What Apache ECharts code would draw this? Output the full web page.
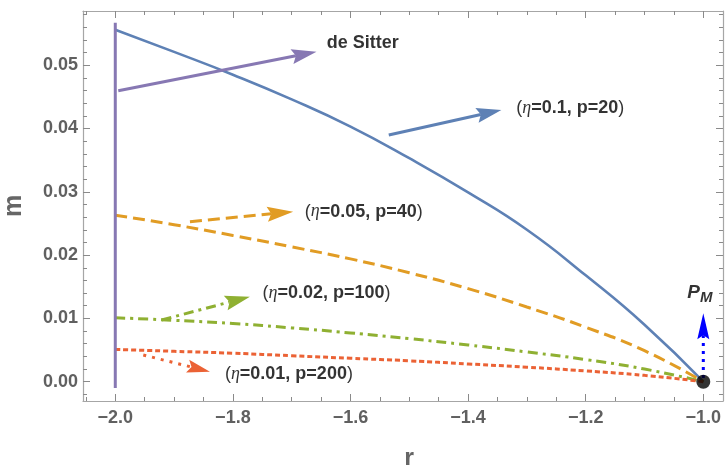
<!DOCTYPE html>
<html>
<head>
<meta charset="utf-8">
<script src="https://cdn.jsdelivr.net/npm/echarts@6/dist/echarts.min.js"></script>
<style>
html,body{margin:0;padding:0;background:#fff;}
#c{width:727px;height:465px;}
</style>
</head>
<body>
<div id="c"></div>
<script>
// ---- data ----
const rVals   = [-2.0, -1.9, -1.8, -1.7, -1.6, -1.5, -1.4, -1.3, -1.2, -1.1, -1.0];
const mEta01  = [0.0556, 0.0521, 0.0485, 0.0446, 0.0403, 0.0353, 0.0299, 0.0240, 0.0168, 0.0090, 0.0];
const mEta005 = [0.0263, 0.0248, 0.0231, 0.0213, 0.0194, 0.0172, 0.0147, 0.0118, 0.0086, 0.0049, 0.0];
const mEta002 = [0.0101, 0.0097, 0.0092, 0.0085, 0.0077, 0.0068, 0.0058, 0.0047, 0.0035, 0.0020, 0.0];
const mEta001 = [0.0051, 0.0048, 0.0045, 0.0041, 0.0037, 0.0033, 0.0028, 0.0023, 0.0017, 0.0010, 0.0];
const deSitterR = [-2.0, -2.0];
const deSitterM = [-0.001, 0.0567];
const pointPM = [-1.0, 0.0];

const xTicks = [-2.0, -1.8, -1.6, -1.4, -1.2, -1.0];
const yTicks = [0.00, 0.01, 0.02, 0.03, 0.04, 0.05];
const xMinorStep = 0.05, yMinorStep = 0.002;

const arrowStart = [[-1.9949, 0.04597], [-1.5349, 0.03897], [-1.873, 0.02528], [-1.9212, 0.00975], [-1.9524, 0.00422], [-1.0, 0.0006]];
const arrowEnd   = [[-1.6578, 0.05213], [-1.3434, 0.04292], [-1.6975, 0.02686], [-1.7711, 0.01343], [-1.839, 0.00158], [-1.0, 0.0108]];

const labelNames = ['de Sitter', '0.1, p=20', '0.05, p=40', '0.02, p=100', '0.01, p=200', 'PM'];
const labelPos = [[-1.6403, 0.05346], [-1.3179, 0.04319], [-1.6777, 0.02686], [-1.7495, 0.01397], [-1.8136, 0.00122], [-1.0271, 0.01380]];

// ---- styles ----
const C_BLUE = '#5E81B5', C_ORANGE = '#E19C24', C_GREEN = '#8FB032', C_RED = '#EB6235', C_PURPLE = '#8778B3';
const arrowColors = [C_PURPLE, C_BLUE, C_ORANGE, C_GREEN, C_RED, '#0000FF'];
const arrowDash = [null, null, [12, 6], [10, 5, 3, 5], [3, 6], [3, 5]];
const arrowHead = [[25, 15], [25, 15], [26, 15], [25, 15], [23, 13], [26, 12]];

const X_MIN = -2.0549, X_MAX = -0.9665, Y_MIN = -0.00305, Y_MAX = 0.05856;
const FRAME = '#a6a6a6';
const TICKC = '#8a8a8a';

function range(lo, hi, step) {
  const out = [];
  const n0 = Math.ceil(lo / step - 1e-9), n1 = Math.floor(hi / step + 1e-9);
  for (let n = n0; n <= n1; n++) out.push(+(n * step).toFixed(6));
  return out;
}
const xMinor = range(X_MIN, X_MAX, xMinorStep).filter(v => !xTicks.some(t => Math.abs(t - v) < 1e-6));
const yMinor = range(Y_MIN, Y_MAX, yMinorStep).filter(v => !yTicks.some(t => Math.abs(t - v) < 1e-6));

const fmt = (v, d) => v.toFixed(d).replace('-', '\u2212');
const zip = (a, b) => a.map((v, i) => [v, b[i]]);

function mkX(pos, major, labels) {
  return {
    type: 'value', position: pos, min: X_MIN, max: X_MAX,
    axisLine: { show: major, onZero: false, lineStyle: { color: FRAME, width: 1.2 } },
    axisTick: { show: true, inside: true, length: major ? 7 : 4, customValues: major ? xTicks : xMinor, lineStyle: { color: TICKC, width: 1 } },
    axisLabel: labels ? { show: true, customValues: xTicks, formatter: v => fmt(v, 1), margin: 8,
      color: '#606060', fontWeight: 'bold', fontSize: 18, fontFamily: 'Liberation Sans' } : { show: false },
    splitLine: { show: false },
    name: labels ? 'r' : '', nameLocation: 'middle', nameGap: 46,
    nameTextStyle: { color: '#666', fontWeight: 'bold', fontSize: 25, fontFamily: 'Liberation Sans', padding: [0, 0, 0, 12] }
  };
}
function mkY(pos, major, labels) {
  return {
    type: 'value', position: pos, min: Y_MIN, max: Y_MAX,
    axisLine: { show: major, onZero: false, lineStyle: { color: FRAME, width: 1.2 } },
    axisTick: { show: true, inside: true, length: major ? 7 : 4, customValues: major ? yTicks : yMinor, lineStyle: { color: TICKC, width: 1 } },
    axisLabel: labels ? { show: true, customValues: yTicks, formatter: v => fmt(v, 2), margin: 5,
      color: '#606060', fontWeight: 'bold', fontSize: 18, fontFamily: 'Liberation Sans' } : { show: false },
    splitLine: { show: false },
    name: labels ? 'm' : '', nameLocation: 'middle', nameGap: 56,
    nameTextStyle: { color: '#666', fontWeight: 'bold', fontSize: 25, fontFamily: 'Liberation Sans' }
  };
}

const richBase = {
  p: { fontSize: 18, color: '#000', fontFamily: 'Liberation Sans' },
  e: { fontSize: 18, color: '#000', fontStyle: 'italic', fontFamily: 'Liberation Serif' },
  b: { fontSize: 18, color: '#000', fontWeight: 'bold', fontFamily: 'Liberation Sans' },
  P: { fontSize: 19, color: '#000', fontWeight: 'bold', fontStyle: 'italic', fontFamily: 'Liberation Sans', lineHeight: 22, verticalAlign: 'top' },
  S: { fontSize: 15, color: '#000', fontWeight: 'bold', fontStyle: 'italic', fontFamily: 'Liberation Sans', lineHeight: 22, verticalAlign: 'bottom', padding: [6, 0, 0, 0] }
};
function labelText(i) {
  const s = labelNames[i];
  if (i === 0) return '{b|' + s + '}';
  if (i === 5) return '{P|' + s[0] + '}{S|' + s.slice(1) + '}';
  return '{p|(}{e|\u03b7}{b|=' + s + '}{p|)}';
}

function renderArrow(params, api) {
  const i = params.dataIndex;
  const p1 = api.coord([api.value(0), api.value(1)]);
  const p2 = api.coord([api.value(2), api.value(3)]);
  const dx = p2[0] - p1[0], dy = p2[1] - p1[1];
  const len = Math.hypot(dx, dy);
  const ux = dx / len, uy = dy / len, nx = -uy, ny = ux;
  const L = arrowHead[i][0], W = arrowHead[i][1] / 2, notch = 4;
  const bx = p2[0] - L * ux, by = p2[1] - L * uy;
  const kx = p2[0] - (L - notch) * ux, ky = p2[1] - (L - notch) * uy;
  const color = arrowColors[i];
  return {
    type: 'group',
    children: [
      { type: 'line', shape: { x1: p1[0], y1: p1[1], x2: kx, y2: ky },
        style: { stroke: color, lineWidth: 3, lineDash: arrowDash[i] || null, fill: null } },
      { type: 'polygon', shape: { points: [[p2[0], p2[1]], [bx + W * nx, by + W * ny], [kx, ky], [bx - W * nx, by - W * ny]] },
        style: { fill: color, stroke: null } }
    ]
  };
}

const chart = echarts.init(document.getElementById('c'), null, { renderer: 'canvas' });
chart.setOption({
  animation: false,
  backgroundColor: '#fff',
  grid: { left: 83, right: 4, top: 11, bottom: 64, containLabel: false, outerBoundsMode: 'none' },
  xAxis: [mkX('bottom', true, true), mkX('bottom', false, false), mkX('top', true, false), mkX('top', false, false)],
  yAxis: [mkY('left', true, true), mkY('left', false, false), mkY('right', true, false), mkY('right', false, false)],
  series: [
    { type: 'line', data: zip(rVals, mEta01), showSymbol: false, smooth: true, z: 3,
      lineStyle: { color: C_BLUE, width: 2.6 } },
    { type: 'line', data: zip(rVals, mEta005), showSymbol: false, smooth: true, z: 3,
      lineStyle: { color: C_ORANGE, width: 3, type: [12, 6] } },
    { type: 'line', data: zip(rVals, mEta002), showSymbol: false, smooth: true, z: 3,
      lineStyle: { color: C_GREEN, width: 3, type: [10, 5, 3, 5] } },
    { type: 'line', data: zip(rVals, mEta001), showSymbol: false, smooth: true, z: 3,
      lineStyle: { color: C_RED, width: 3, type: [5, 3] } },
    { type: 'line', data: zip(deSitterR, deSitterM), showSymbol: false, z: 4,
      lineStyle: { color: C_PURPLE, width: 3 } },
    { type: 'custom', renderItem: renderArrow, z: 5,
      data: arrowStart.map((s, i) => [s[0], s[1], arrowEnd[i][0], arrowEnd[i][1]]),
      encode: { x: [0, 2], y: [1, 3] } },
    { type: 'scatter', data: [pointPM], symbolSize: 14, z: 6,
      itemStyle: { color: '#000' } },
    { type: 'scatter', symbolSize: 0, z: 7, silent: true,
      data: labelPos.map((p, i) => ({ value: p, label: { formatter: labelText(i) } })),
      label: { show: true, position: 'right', distance: 0, rich: richBase } }
  ]
});
</script>
</body>
</html>
